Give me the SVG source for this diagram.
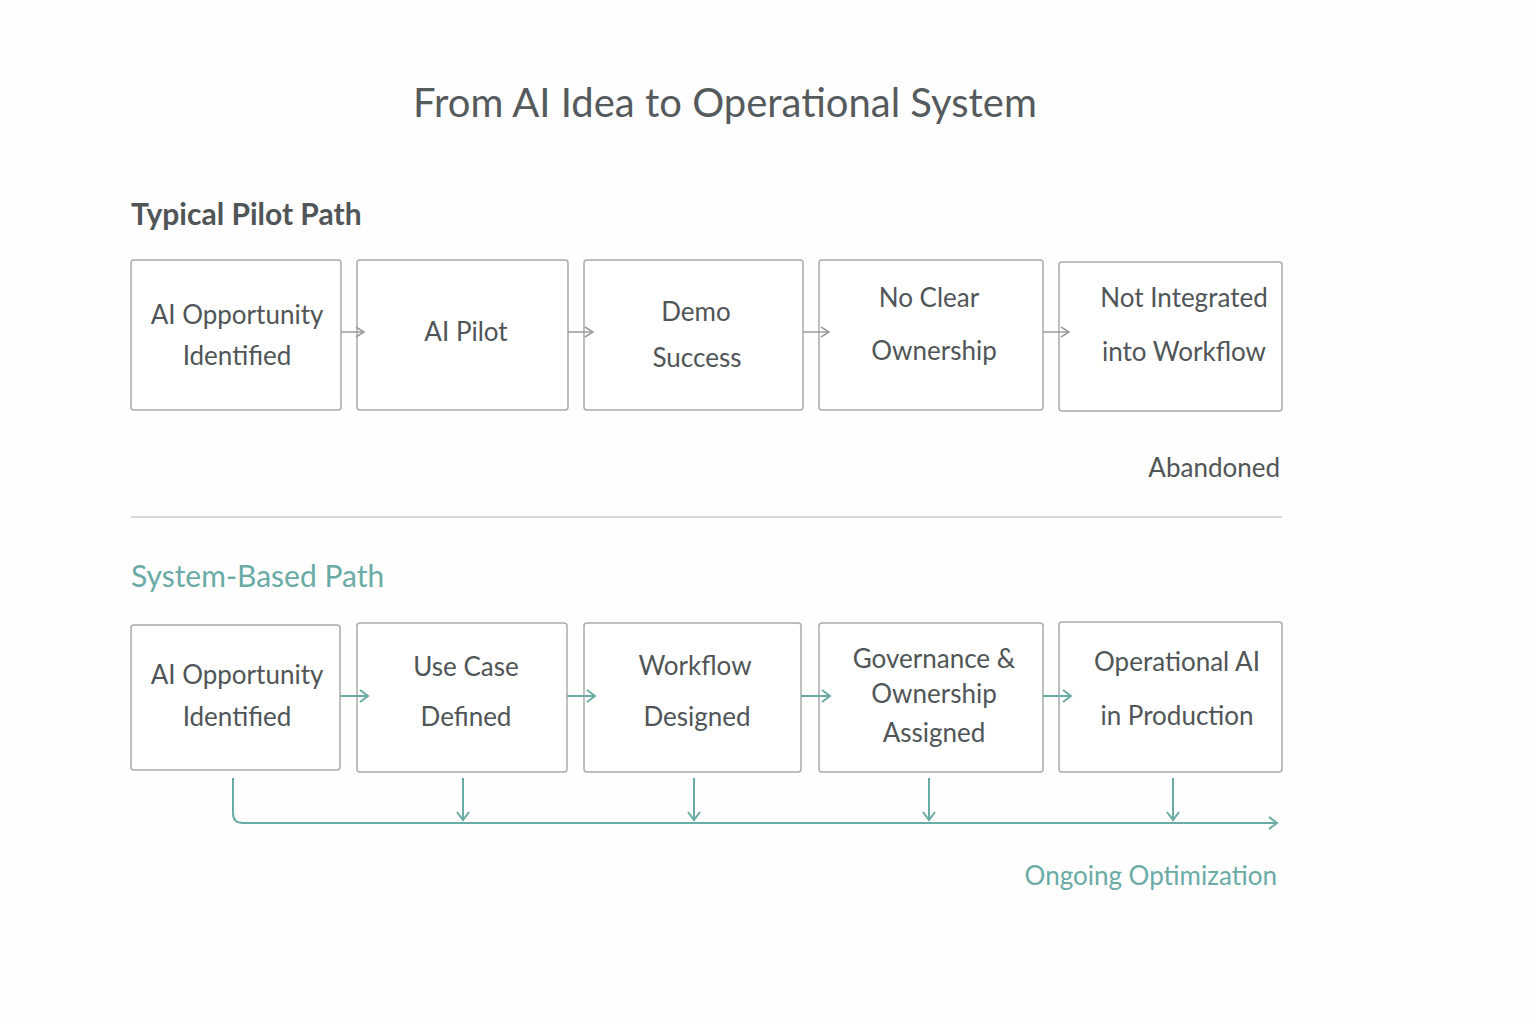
<svg xmlns="http://www.w3.org/2000/svg" width="1536" height="1024" viewBox="0 0 1536 1024">
<style>
text{font-family:Lato,"Open Sans","Noto Sans",sans-serif;}
.box{fill:#fff;stroke:#a9abab;stroke-width:1.5;}
.t{font-size:26px;fill:#505557;text-anchor:middle;}
.ga{stroke:#9a9c9c;stroke-width:1.5;fill:none;}
.ta{stroke:#6aaba6;stroke-width:2;fill:none;}
</style>
<defs>
<marker id="mg" markerWidth="12" markerHeight="12" refX="10" refY="6" orient="auto" markerUnits="userSpaceOnUse"><path d="M2,1 L10,6 L2,11" fill="none" stroke="#9a9c9c" stroke-width="1.5"/></marker>
<marker id="mt" markerWidth="14" markerHeight="14" refX="11" refY="7" orient="auto" markerUnits="userSpaceOnUse"><path d="M3,1 L11,7 L3,13" fill="none" stroke="#6aaba6" stroke-width="2"/></marker>
</defs>
<rect width="1536" height="1024" fill="#fefefe"/>
<text x="725" y="117" font-size="40" fill="#555a5c" text-anchor="middle">From AI Idea to Operational System</text>
<text x="131" y="225" font-size="30" font-weight="bold" fill="#505557">Typical Pilot Path</text>
<g id="p1"><rect class="box" x="131" y="260" width="210" height="150" rx="3"/><text class="t" x="237" y="324">AI Opportunity</text><text class="t" x="237" y="365">Identified</text></g>
<g id="p2"><rect class="box" x="357" y="260" width="211" height="150" rx="3"/><text class="t" x="466" y="341">AI Pilot</text></g>
<g id="p3"><rect class="box" x="584" y="260" width="219" height="150" rx="3"/><text class="t" x="696" y="321">Demo</text><text class="t" x="697" y="367">Success</text></g>
<g id="p4"><rect class="box" x="819" y="260" width="224" height="150" rx="3"/><text class="t" x="929" y="307">No Clear</text><text class="t" x="934" y="360">Ownership</text></g>
<g id="p5"><rect class="box" x="1059" y="262" width="223" height="149" rx="3"/><text class="t" x="1184" y="307">Not Integrated</text><text class="t" x="1184" y="361">into Workflow</text></g>
<text x="1280" y="477" font-size="26" fill="#505557" text-anchor="end">Abandoned</text>
<line x1="131" y1="517" x2="1282" y2="517" stroke="#d6d8d8" stroke-width="2"/>
<text x="131" y="587" font-size="30" fill="#6aaba6">System-Based Path</text>
<g id="s1"><rect class="box" x="131" y="625" width="209" height="145" rx="3"/><text class="t" x="237" y="684">AI Opportunity</text><text class="t" x="237" y="726">Identified</text></g>
<g id="s2"><rect class="box" x="357" y="623" width="210" height="149" rx="3"/><text class="t" x="466" y="676">Use Case</text><text class="t" x="466" y="726">Defined</text></g>
<g id="s3"><rect class="box" x="584" y="623" width="217" height="149" rx="3"/><text class="t" x="695" y="675">Workflow</text><text class="t" x="697" y="726">Designed</text></g>
<g id="s4"><rect class="box" x="819" y="623" width="224" height="149" rx="3"/><text class="t" x="934" y="668">Governance &amp;</text><text class="t" x="934" y="703">Ownership</text><text class="t" x="934" y="742">Assigned</text></g>
<g id="s5"><rect class="box" x="1059" y="622" width="223" height="150" rx="3"/><text class="t" x="1177" y="671">Operational AI</text><text class="t" x="1177" y="725">in Production</text></g>
<text x="1277" y="885" font-size="26" fill="#6aaba6" text-anchor="end">Ongoing Optimization</text>
<g id="connectors">
<line class="ga" x1="341" y1="332" x2="364" y2="332" marker-end="url(#mg)"/>
<line class="ga" x1="568" y1="332" x2="593" y2="332" marker-end="url(#mg)"/>
<line class="ga" x1="803" y1="332" x2="829" y2="332" marker-end="url(#mg)"/>
<line class="ga" x1="1043" y1="332" x2="1069" y2="332" marker-end="url(#mg)"/>
<line class="ta" x1="340" y1="696" x2="368" y2="696" marker-end="url(#mt)"/>
<line class="ta" x1="567" y1="696" x2="595" y2="696" marker-end="url(#mt)"/>
<line class="ta" x1="801" y1="696" x2="830" y2="696" marker-end="url(#mt)"/>
<line class="ta" x1="1043" y1="696" x2="1071" y2="696" marker-end="url(#mt)"/>
<path class="ta" d="M233,778 V813 Q233,823 243,823 H1277" marker-end="url(#mt)"/>
<line class="ta" x1="463" y1="778" x2="463" y2="820" marker-end="url(#mt)"/>
<line class="ta" x1="694" y1="778" x2="694" y2="820" marker-end="url(#mt)"/>
<line class="ta" x1="929" y1="778" x2="929" y2="820" marker-end="url(#mt)"/>
<line class="ta" x1="1173" y1="778" x2="1173" y2="820" marker-end="url(#mt)"/>
</g>
</svg>
